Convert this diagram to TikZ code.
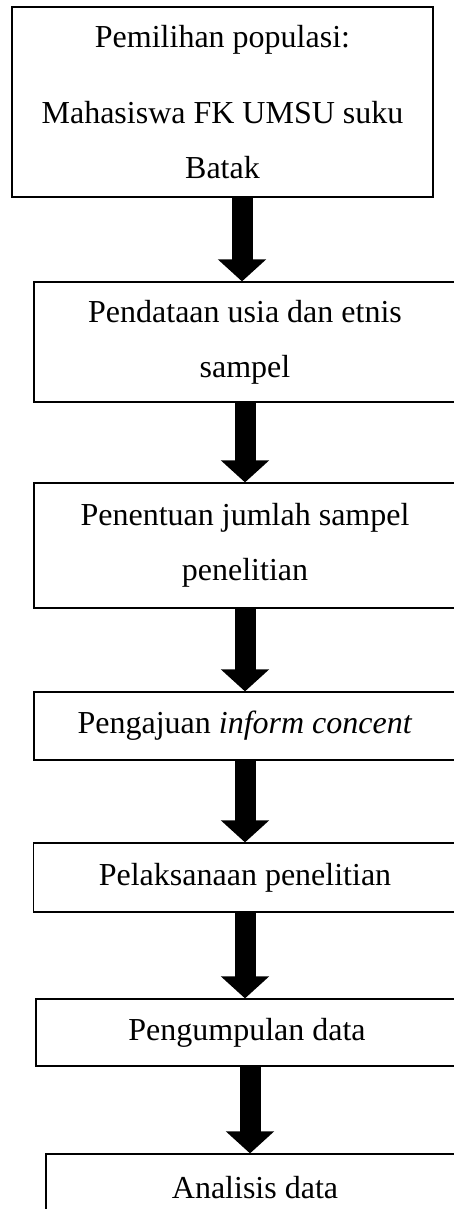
\documentclass[tikz,border=0pt]{standalone}
\usepackage{fontspec}
\setmainfont{Liberation Serif}
\usetikzlibrary{arrows.meta}

\begin{document}
\begin{tikzpicture}[x=1pt, y=-1pt,
  box/.style={draw, line width=1.2pt, align=center, inner sep=0pt,
    font=\fontsize{32}{55}\selectfont},
  flow/.style={line width=21pt, -{Triangle[width=47pt,length=22pt]}}]
\useasboundingbox (0,0) rectangle (454,1209);
\clip (0,0) rectangle (454,1209);
% steps
\node[box, minimum width=421pt, minimum height=190pt] (popul) at (222.5,102)
  {Pemilihan populasi:\\[21pt]Mahasiswa FK UMSU suku\\Batak};
\node[box, minimum width=422pt, minimum height=120pt] (sampel) at (245,342)
  {Pendataan usia dan etnis\\sampel};
\node[box, minimum width=422pt, minimum height=125pt] (jumlah) at (245,545.5)
  {Penentuan jumlah sampel\\penelitian};
\node[box, minimum width=422pt, minimum height=68pt] (consent) at (245,726)
  {Pengajuan \textit{inform concent}};
\node[box, minimum width=423pt, minimum height=69pt] (laksana) at (245,877.5)
  {Pelaksanaan penelitian};
\node[box, minimum width=422pt, minimum height=67pt] (kumpul) at (247,1032.5)
  {Pengumpulan data};
\node[box, minimum width=418pt, minimum height=68pt] (analisis) at (255,1188)
  {Analisis data};
% block arrows
\draw[flow] ([xshift=19.5pt]popul.south) -- ([xshift=-3pt]sampel.north);
\draw[flow] (sampel.south) -- (jumlah.north);
\draw[flow] (jumlah.south) -- (consent.north);
\draw[flow] (consent.south) -- (laksana.north);
\draw[flow] (laksana.south) -- (kumpul.north -| laksana.south);
\draw[flow] ([xshift=3pt]kumpul.south) -- ([xshift=-5pt]analisis.north);
\end{tikzpicture}
\end{document}
